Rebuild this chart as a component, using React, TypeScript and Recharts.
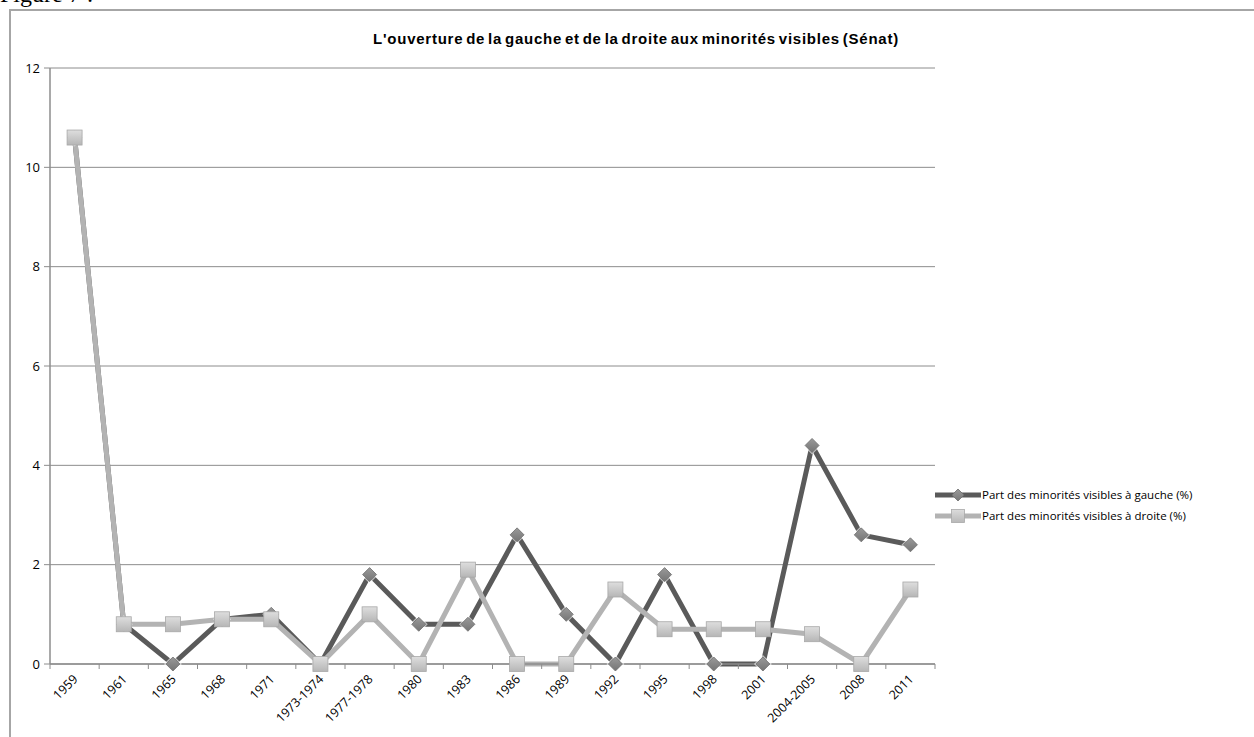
import React from 'react';
import { CartesianGrid, Line, LineChart, XAxis, YAxis } from 'recharts';

const years = [
  '1959', '1961', '1965', '1968', '1971', '1973-1974', '1977-1978', '1980', '1983',
  '1986', '1989', '1992', '1995', '1998', '2001', '2004-2005', '2008', '2011',
];
const gauche = [10.6, 0.8, 0, 0.9, 1.0, 0, 1.8, 0.8, 0.8, 2.6, 1.0, 0, 1.8, 0, 0, 4.4, 2.6, 2.4];
const droite = [10.6, 0.8, 0.8, 0.9, 0.9, 0, 1.0, 0, 1.9, 0, 0, 1.5, 0.7, 0.7, 0.7, 0.6, 0, 1.5];
const yTicks = [0, 2, 4, 6, 8, 10, 12];
const seriesNames = ['Part des minorités visibles à gauche (%)', 'Part des minorités visibles à droite (%)'];

const rows = years.map((y, i) => ({ year: y, gauche: gauche[i], droite: droite[i] }));

const theme = {
  dark: '#5a5a5a',
  light: '#b3b3b3',
  grid: '#8c8c8c',
  axis: '#8c8c8c',
  text: '#000',
};

const labelFont = '"Open Sans", "Liberation Sans", sans-serif';

// diamond marker, left series (white halo like the Excel shadow)
const Diamond = (p: any) => {
  const { cx, cy } = p;
  if (cx == null || cy == null) return null;
  const r = 7;
  return (
    <g>
      <path
        d={`M${cx},${cy - r - 2} L${cx + r + 2},${cy} L${cx},${cy + r + 2} L${cx - r - 2},${cy} Z`}
        fill="#fff"
        opacity={0.6}
      />
      <path
        d={`M${cx},${cy - r} L${cx + r},${cy} L${cx},${cy + r} L${cx - r},${cy} Z`}
        fill="url(#diaGrad)"
        stroke="#6e6e6e"
        strokeWidth={0.8}
      />
    </g>
  );
};

// square marker, right series
const Square = (p: any) => {
  const { cx, cy } = p;
  if (cx == null || cy == null) return null;
  const r = 7.5;
  return (
    <rect x={cx - r} y={cy - r} width={r * 2} height={r * 2} fill="url(#sqGrad)" stroke="#a8a8a8" strokeWidth={0.8} />
  );
};

// Excel-style category tick: label rotated, tick marks on category boundaries
const CatTick = (p: any) => {
  const { x, y, payload, index, width } = p;
  const half = width / years.length / 2;
  return (
    <g>
      <line x1={x - half} y1={y - 8} x2={x - half} y2={y - 3} stroke={theme.axis} />
      {index === years.length - 1 && (
        <line x1={x + half} y1={y - 8} x2={x + half} y2={y - 3} stroke={theme.axis} />
      )}
      <text
        x={x + 4}
        y={y + 8}
        textAnchor="end"
        fontSize={12.5}
        fontFamily={labelFont}
        fill={theme.text}
        transform={`rotate(-45, ${x + 4}, ${y + 8})`}
      >
        {payload.value}
      </text>
    </g>
  );
};

const LegendIcon = ({ kind }: { kind: 'd' | 's' }) => (
  <svg width={46} height={16} style={{ display: 'block' }}>
    <defs>
      <linearGradient id={`lg${kind}`} x1="0" y1="0" x2="0" y2="1">
        <stop offset="0%" stopColor={kind === 'd' ? '#9a9a9a' : '#dcdcdc'} />
        <stop offset="100%" stopColor={kind === 'd' ? '#777' : '#b8b8b8'} />
      </linearGradient>
    </defs>
    <line x1={0} y1={8} x2={46} y2={8} stroke={kind === 'd' ? theme.dark : theme.light} strokeWidth={5} />
    {kind === 'd' ? (
      <path d="M23,2 L29,8 L23,14 L17,8 Z" fill={`url(#lg${kind})`} stroke="#6e6e6e" strokeWidth={0.8} />
    ) : (
      <rect x={16.5} y={1.5} width={13} height={13} fill={`url(#lg${kind})`} stroke="#a8a8a8" strokeWidth={0.8} />
    )}
  </svg>
);

export default function App() {
  return (
    <div style={{ position: 'absolute', left: 0, top: 0, width: 1254, height: 737, overflow: 'hidden', background: '#fff' }}>
      <div
        style={{
          position: 'absolute',
          left: 0,
          top: -19,
          fontFamily: '"Liberation Serif", "DejaVu Serif", serif',
          fontSize: 24,
          lineHeight: '27px',
          color: '#000',
          whiteSpace: 'nowrap',
        }}
      >
        Figure 7 :
      </div>
      <div
        style={{
          position: 'absolute',
          left: 9,
          top: 9,
          width: 1400,
          height: 900,
          borderLeft: '2px solid #a6a6a6',
          borderTop: '2px solid #a6a6a6',
        }}
      />
      <div
        style={{
          position: 'absolute',
          left: 346,
          top: 30,
          width: 580,
          textAlign: 'center',
          fontFamily: '"Liberation Sans", Arial, sans-serif',
          fontWeight: 'bold',
          fontSize: 15,
          letterSpacing: 0.75,
          wordSpacing: -2,
          whiteSpace: 'nowrap',
          color: '#000',
        }}
      >
        L'ouverture de la gauche et de la droite aux minorités visibles (Sénat)
      </div>
      <div style={{ position: 'absolute', left: 0, top: 0 }}>
        <LineChart width={1254} height={737} data={rows} margin={{ top: 68, right: 319, bottom: 0, left: 0 }}>
          <defs>
            <linearGradient id="diaGrad" x1="0" y1="0" x2="0" y2="1">
              <stop offset="0%" stopColor="#9a9a9a" />
              <stop offset="100%" stopColor="#747474" />
            </linearGradient>
            <linearGradient id="sqGrad" x1="0" y1="0" x2="0" y2="1">
              <stop offset="0%" stopColor="#dedede" />
              <stop offset="100%" stopColor="#b6b6b6" />
            </linearGradient>
          </defs>
          <CartesianGrid vertical={false} stroke={theme.grid} strokeWidth={1} />
          <XAxis
            dataKey="year"
            scale="band"
            interval={0}
            height={73}
            axisLine={{ stroke: theme.axis, strokeWidth: 1.5 }}
            tickLine={false}
            tick={<CatTick />}
          />
          <YAxis
            width={50}
            domain={[0, 12]}
            ticks={yTicks}
            interval={0}
            axisLine={{ stroke: theme.axis, strokeWidth: 1.5 }}
            tickLine={{ stroke: theme.axis }}
            tickSize={6}
            tickMargin={4}
            tick={{ fontSize: 13, fontFamily: labelFont, fill: theme.text }}
          />
          <Line
            dataKey="gauche"
            name={seriesNames[0]}
            stroke={theme.dark}
            strokeWidth={5}
            dot={<Diamond />}
            activeDot={false}
            isAnimationActive={false}
          />
          <Line
            dataKey="droite"
            name={seriesNames[1]}
            stroke={theme.light}
            strokeWidth={5}
            dot={<Square />}
            activeDot={false}
            isAnimationActive={false}
          />
        </LineChart>
      </div>
      <div style={{ position: 'absolute', left: 935, top: 484, fontFamily: labelFont, fontSize: 11.5, color: '#000' }}>
        {(['d', 's'] as const).map((k, i) => (
          <div key={k} style={{ display: 'flex', alignItems: 'center', height: 21, whiteSpace: 'nowrap' }}>
            <LegendIcon kind={k} />
            <span style={{ marginLeft: 1 }}>{seriesNames[i]}</span>
          </div>
        ))}
      </div>
    </div>
  );
}
